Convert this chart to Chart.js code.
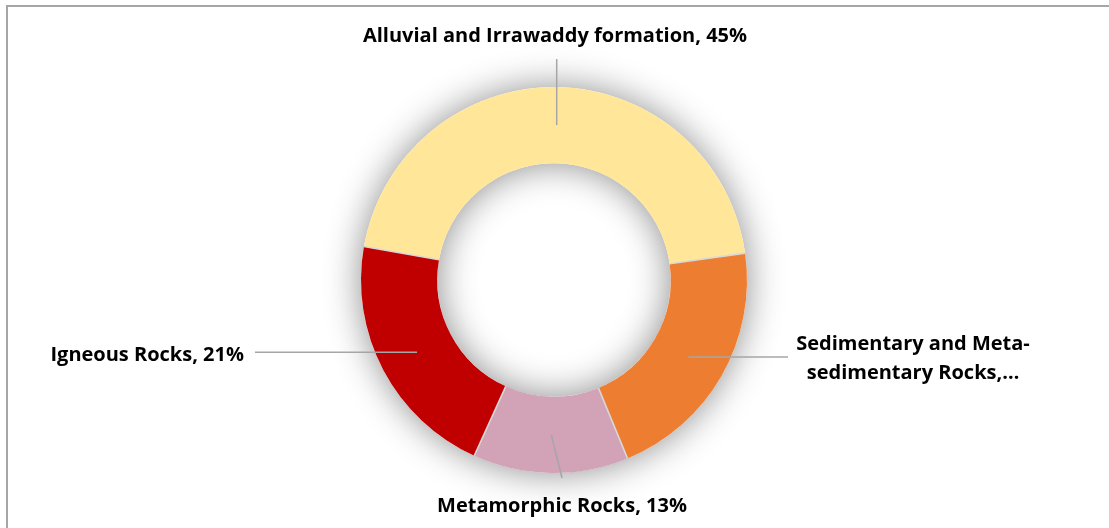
<!DOCTYPE html>
<html>
<head>
<meta charset="utf-8">
<script src="https://cdn.jsdelivr.net/npm/chart.js@4.4.1/dist/chart.umd.min.js"></script>
<style>
  html, body { margin: 0; padding: 0; background: #ffffff; }
  canvas { display: block; }
</style>
</head>
<body>
<canvas id="rockChart" width="1109" height="528"></canvas>
<script>
// Share of each rock formation group (percent)
const categories = [
  'Alluvial and Irrawaddy formation',
  'Sedimentary and Meta-sedimentary Rocks',
  'Metamorphic Rocks',
  'Igneous Rocks'
];
const shares = [45, 21, 13, 21];
const sliceColors = ['#FFE699', '#ED7D31', '#D2A3B7', '#C00000'];

// Label text per slice; the long sedimentary label is wrapped and cut short
const labelTexts = categories.map((c, i) => [c + ', ' + shares[i] + '%']);
labelTexts[1] = ['Sedimentary and Meta-', 'sedimentary Rocks,\u2026'];

const FONT = 'bold 20px "Open Sans", "Noto Sans", sans-serif';

// Where each leader line ends and where its text sits
function labelLayout(i, p) {
  switch (i) {
    case 0: return { end: [p.x, 59], align: 'center', x: 555, ys: [42] };
    case 1: return { end: [788, p.y], align: 'center', x: 913, ys: [350, 379] };
    case 2: return { end: [562, 478], align: 'center', x: 562, ys: [512] };
    default: return { end: [255, p.y], align: 'right', x: 244, ys: [361] };
  }
}

const framePlugin = {
  id: 'frame',
  beforeDraw(chart) {
    const ctx = chart.ctx;
    ctx.save();
    ctx.fillStyle = '#ffffff';
    ctx.fillRect(0, 0, chart.width, chart.height);
    ctx.fillStyle = '#a6a6a6';
    ctx.fillRect(6, 5, chart.width - 6, 2);
    ctx.fillRect(6, 5, 2, chart.height - 5);
    ctx.restore();
  }
};

// Soft glow around and inside the ring
const ringShadowPlugin = {
  id: 'ringShadow',
  beforeDatasetsDraw(chart) {
    const arc = chart.getDatasetMeta(0).data[0];
    if (!arc) return;
    const { x, y, innerRadius, outerRadius } = arc.getProps(['x', 'y', 'innerRadius', 'outerRadius'], true);
    const ctx = chart.ctx;
    ctx.save();
    ctx.beginPath();
    ctx.arc(x, y, outerRadius, 0, Math.PI * 2);
    ctx.moveTo(x + innerRadius, y);
    ctx.arc(x, y, innerRadius, 0, Math.PI * 2, true);
    ctx.closePath();
    ctx.shadowColor = 'rgba(0,0,0,0.45)';
    ctx.shadowBlur = 36;
    ctx.fillStyle = '#ffffff';
    ctx.fill();
    ctx.restore();
  }
};

// Thin light separators between slices, leader lines and labels
const labelPlugin = {
  id: 'sliceLabels',
  afterDatasetsDraw(chart) {
    const ctx = chart.ctx;
    const arcs = chart.getDatasetMeta(0).data;
    ctx.save();
    ctx.strokeStyle = '#d9d9d9';
    ctx.lineWidth = 1.6;
    arcs.forEach(a => {
      const { x, y, startAngle, innerRadius, outerRadius } =
        a.getProps(['x', 'y', 'startAngle', 'innerRadius', 'outerRadius'], true);
      ctx.beginPath();
      ctx.moveTo(x + innerRadius * Math.cos(startAngle), y + innerRadius * Math.sin(startAngle));
      ctx.lineTo(x + outerRadius * Math.cos(startAngle), y + outerRadius * Math.sin(startAngle));
      ctx.stroke();
    });
    ctx.restore();

    ctx.save();
    arcs.forEach((a, i) => {
      const p = a.getCenterPoint(true);
      const L = labelLayout(i, p);
      ctx.strokeStyle = '#a6a6a6';
      ctx.lineWidth = 1.5;
      ctx.beginPath();
      ctx.moveTo(p.x, p.y);
      ctx.lineTo(L.end[0], L.end[1]);
      ctx.stroke();

      ctx.fillStyle = '#000000';
      ctx.font = FONT;
      ctx.textAlign = L.align;
      ctx.textBaseline = 'alphabetic';
      labelTexts[i].forEach((t, k) => ctx.fillText(t, L.x, L.ys[k]));
    });
    ctx.restore();
  }
};

new Chart(document.getElementById('rockChart'), {
  type: 'doughnut',
  data: {
    labels: categories,
    datasets: [{
      data: shares,
      backgroundColor: sliceColors,
      borderWidth: 0,
      hoverOffset: 0
    }]
  },
  options: {
    responsive: false,
    animation: false,
    events: [],
    rotation: -80,
    cutout: '60.5%',
    layout: { padding: { left: 361, right: 362, top: 87, bottom: 55 } },
    plugins: {
      legend: { display: false },
      tooltip: { enabled: false }
    }
  },
  plugins: [framePlugin, ringShadowPlugin, labelPlugin]
});
</script>
</body>
</html>
